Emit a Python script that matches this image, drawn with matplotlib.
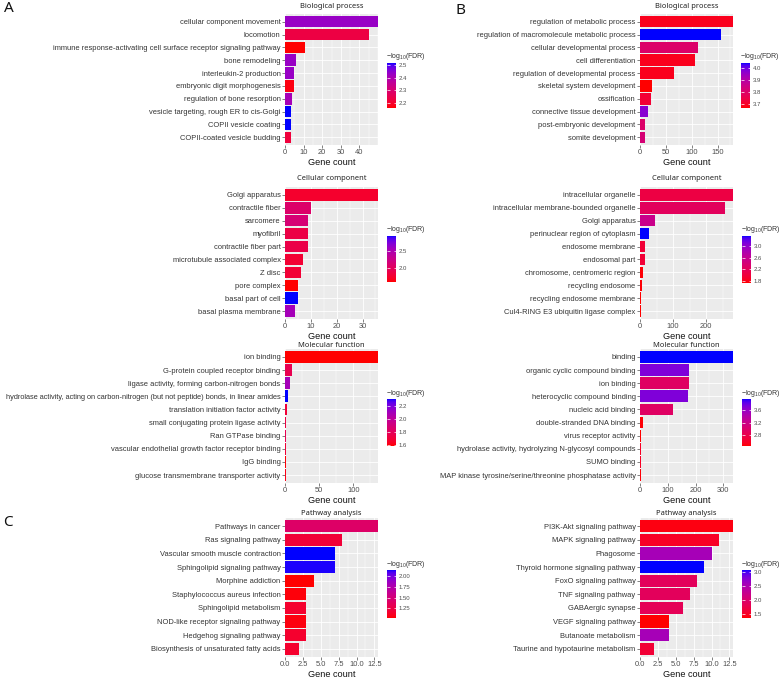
import numpy as np
import matplotlib
matplotlib.use("Agg")
import matplotlib.pyplot as plt
from matplotlib.colors import ListedColormap, Normalize
from matplotlib.ticker import MultipleLocator

plt.rcParams['font.family'] = ['Liberation Sans', 'DejaVu Sans']
plt.rcParams['mathtext.fontset'] = 'custom'
plt.rcParams['mathtext.rm'] = 'Liberation Sans'
plt.rcParams['mathtext.it'] = 'Liberation Sans'

# ---------------- data ----------------
bp_a_terms = ["cellular component movement", "locomotion",
              "immune response-activating cell surface receptor signaling pathway",
              "bone remodeling", "interleukin-2 production", "embryonic digit morphogenesis",
              "regulation of bone resorption", "vesicle targeting, rough ER to cis-Golgi",
              "COPII vesicle coating", "COPII-coated vesicle budding"]
bp_a_counts = [50, 45, 11, 6, 5, 5, 4, 3, 3, 3]
bp_a_fdr = [2.43, 2.23, 2.16, 2.43, 2.43, 2.17, 2.41, 2.516, 2.516, 2.22]
bp_a_xticks = [0, 10, 20, 30, 40]
bp_a_cticks = [2.2, 2.3, 2.4, 2.5]

bp_b_terms = ["regulation of metabolic process", "regulation of macromolecule metabolic process",
              "cellular developmental process", "cell differentiation",
              "regulation of developmental process", "skeletal system development",
              "ossification", "connective tissue development",
              "post-embryonic development", "somite development"]
bp_b_counts = [180, 156, 113, 106, 66, 24, 21, 16, 10, 10]
bp_b_fdr = [3.69, 4.04, 3.80, 3.69, 3.69, 3.667, 3.72, 3.97, 3.80, 3.82]
bp_b_xticks = [0, 50, 100, 150]
bp_b_cticks = [3.7, 3.8, 3.9, 4.0]

cc_a_terms = ["Golgi apparatus", "contractile fiber", "sarcomere", "myofibril",
              "contractile fiber part", "microtubule associated complex", "Z disc",
              "pore complex", "basal part of cell", "basal plasma membrane"]
cc_a_counts = [36, 10, 9, 9, 9, 7, 6, 5, 5, 4]
cc_a_fdr = [1.75, 2.08, 2.15, 1.88, 1.90, 1.78, 1.80, 1.60, 2.95, 2.55]
cc_a_xticks = [0, 10, 20, 30]
cc_a_cticks = [2.0, 2.5]

cc_b_terms = ["intracellular organelle", "intracellular membrane-bounded organelle",
              "Golgi apparatus", "perinuclear region of cytoplasm", "endosome membrane",
              "endosomal part", "chromosome, centromeric region", "recycling endosome",
              "recycling endosome membrane", "Cul4-RING E3 ubiquitin ligase complex"]
cc_b_counts = [281, 258, 45, 26, 16, 16, 8, 7, 4, 3]
cc_b_fdr = [2.05, 2.22, 2.55, 3.35, 1.97, 1.97, 1.75, 1.75, 1.73, 1.73]
cc_b_xticks = [0, 100, 200]
cc_b_cticks = [1.8, 2.2, 2.6, 3.0]

mf_a_terms = ["ion binding", "G-protein coupled receptor binding",
              "ligase activity, forming carbon-nitrogen bonds",
              "hydrolase activity, acting on carbon-nitrogen (but not peptide) bonds, in linear amides",
              "translation initiation factor activity", "small conjugating protein ligase activity",
              "Ran GTPase binding", "vascular endothelial growth factor receptor binding",
              "IgG binding", "glucose transmembrane transporter activity"]
mf_a_counts = [136, 10, 7, 4, 3, 2, 2, 1, 1, 1]
mf_a_fdr = [1.59, 1.77, 2.09, 2.30, 1.70, 1.73, 1.77, 1.70, 1.60, 1.62]
mf_a_xticks = [0, 50, 100]
mf_a_cticks = [1.6, 1.8, 2.0, 2.2]

mf_b_terms = ["binding", "organic cyclic compound binding", "ion binding",
              "heterocyclic compound binding", "nucleic acid binding",
              "double-stranded DNA binding", "virus receptor activity",
              "hydrolase activity, hydrolyzing N-glycosyl compounds", "SUMO binding",
              "MAP kinase tyrosine/serine/threonine phosphatase activity"]
mf_b_counts = [335, 176, 175, 174, 120, 10, 4, 4, 4, 3]
mf_b_fdr = [3.97, 3.73, 2.95, 3.73, 2.95, 2.47, 2.45, 2.58, 2.58, 2.47]
mf_b_xticks = [0, 100, 200, 300]
mf_b_cticks = [2.8, 3.2, 3.6]

pa_c_terms = ["Pathways in cancer", "Ras signaling pathway", "Vascular smooth muscle contraction",
              "Sphingolipid signaling pathway", "Morphine addiction",
              "Staphylococcus aureus infection", "Sphingolipid metabolism",
              "NOD-like receptor signaling pathway", "Hedgehog signaling pathway",
              "Biosynthesis of unsaturated fatty acids"]
pa_c_counts = [13, 8, 7, 7, 4, 3, 3, 3, 3, 2]
pa_c_fdr = [1.42, 1.20, 2.14, 2.13, 1.03, 1.05, 1.16, 1.06, 1.16, 1.16]
pa_c_xticks = [0.0, 2.5, 5.0, 7.5, 10.0, 12.5]
pa_c_cticks = [1.25, 1.50, 1.75, 2.00]

pa_d_terms = ["PI3K-Akt signaling pathway", "MAPK signaling pathway", "Phagosome",
              "Thyroid hormone signaling pathway", "FoxO signaling pathway",
              "TNF signaling pathway", "GABAergic synapse", "VEGF signaling pathway",
              "Butanoate metabolism", "Taurine and hypotaurine metabolism"]
pa_d_counts = [13, 11, 10, 9, 8, 7, 6, 4, 4, 2]
pa_d_fdr = [1.40, 1.50, 2.55, 3.06, 1.86, 1.86, 1.83, 1.35, 2.55, 1.60]
pa_d_xticks = [0.0, 2.5, 5.0, 7.5, 10.0, 12.5]
pa_d_cticks = [1.5, 2.0, 2.5, 3.0]

titles = ["Biological process", "Cellular component", "Molecular function", "Pathway analysis"]


# ---------------- colormap (Lab interpolation red -> blue, like ggplot) ----------------
def _f(t):
    d = 6 / 29
    return np.where(t > d ** 3, np.cbrt(t), t / (3 * d * d) + 4 / 29)


def _finv(t):
    d = 6 / 29
    return np.where(t > d, t ** 3, 3 * d * d * (t - 4 / 29))


M = np.array([[0.4124564, 0.3575761, 0.1804375],
              [0.2126729, 0.7151522, 0.0721750],
              [0.0193339, 0.1191920, 0.9503041]])
WHITE = np.array([0.95047, 1.0, 1.08883])


def rgb2lab(rgb):
    rgb = np.asarray(rgb, float)
    c = np.where(rgb <= 0.04045, rgb / 12.92, ((rgb + 0.055) / 1.055) ** 2.4)
    xyz = M @ c / WHITE
    fx, fy, fz = _f(xyz)
    return np.array([116 * fy - 16, 500 * (fx - fy), 200 * (fy - fz)])


def lab2rgb(lab):
    L, a, b = lab
    fy = (L + 16) / 116
    fx = fy + a / 500
    fz = fy - b / 200
    xyz = np.array([_finv(fx), _finv(fy), _finv(fz)]) * WHITE
    c = np.linalg.inv(M) @ xyz
    c = np.clip(c, 0, 1)
    rgb = np.where(c <= 0.0031308, 12.92 * c, 1.055 * c ** (1 / 2.4) - 0.055)
    return np.clip(rgb, 0, 1)


lab_lo = rgb2lab([1, 0, 0])
lab_hi = rgb2lab([0, 0, 1])
cols = [lab2rgb(lab_lo + (lab_hi - lab_lo) * t) for t in np.linspace(0, 1, 256)]
cmap = ListedColormap(cols)

# ---------------- figure ----------------
W, H = 784, 683
fig = plt.figure(figsize=(W / 100, H / 100), dpi=100)


def rect(l, t, r, b):
    return [l / W, 1 - b / H, (r - l) / W, (b - t) / H]


panels = [
    (bp_a_terms, bp_a_counts, bp_a_fdr, bp_a_xticks, bp_a_cticks, titles[0],
     (285, 14, 378, 145), (387, 63, 396, 108), 4.0),
    (bp_b_terms, bp_b_counts, bp_b_fdr, bp_b_xticks, bp_b_cticks, titles[0],
     (640, 14, 733, 145), (741, 63, 750, 108), 4.0),
    (cc_a_terms, cc_a_counts, cc_a_fdr, cc_a_xticks, cc_a_cticks, titles[1],
     (285, 187, 378, 319), (387, 236, 396, 282), 4.3),
    (cc_b_terms, cc_b_counts, cc_b_fdr, cc_b_xticks, cc_b_cticks, titles[1],
     (640, 187, 733, 319), (742, 236, 751, 283), 4.3),
    (mf_a_terms, mf_a_counts, mf_a_fdr, mf_a_xticks, mf_a_cticks, titles[2],
     (285, 349, 378, 483), (387, 399, 396, 446), -0.5),
    (mf_b_terms, mf_b_counts, mf_b_fdr, mf_b_xticks, mf_b_cticks, titles[2],
     (640, 349, 733, 483), (742, 399, 751, 446), -0.5),
    (pa_c_terms, pa_c_counts, pa_c_fdr, pa_c_xticks, pa_c_cticks, titles[3],
     (285, 518, 378, 657), (387, 570, 396, 618), 1.5),
    (pa_d_terms, pa_d_counts, pa_d_fdr, pa_d_xticks, pa_d_cticks, titles[3],
     (640, 518, 733, 657), (742, 570, 751, 618), 1.5),
]

for terms, counts, fdr, xticks, cticks, title, axr, cbr, tpad in panels:
    ax = fig.add_axes(rect(*axr))
    ax.set_facecolor('#EBEBEB')
    norm = Normalize(vmin=min(fdr), vmax=max(fdr))
    y = np.arange(len(terms))
    ax.barh(y, counts, height=0.9, color=cmap(norm(np.array(fdr))), zorder=3)
    ax.set_xlim(0, max(counts))
    ax.set_ylim(len(terms) - 0.4, -0.6)
    ax.set_yticks(y)
    ax.set_yticklabels(terms, fontsize=5.4, color='#333333')
    for t in ax.get_yticklabels():
        if len(t.get_text()) > 80:
            t.set_fontsize(5.3)
    ax.set_xticks(xticks)
    step = xticks[1] - xticks[0]
    ax.xaxis.set_minor_locator(MultipleLocator(step / 2))
    if isinstance(xticks[1], float):
        ax.set_xticklabels(["%.1f" % v for v in xticks])
    ax.tick_params(axis='x', labelsize=5.4, labelcolor='#4D4D4D', color='#4D4D4D',
                   length=2, width=0.5, pad=1.2)
    ax.tick_params(axis='x', which='minor', length=0)
    ax.tick_params(axis='y', length=2, width=0.5, color='#4D4D4D', pad=1.2)
    ax.grid(True, which='major', color='white', linewidth=0.6, zorder=0)
    ax.grid(True, which='minor', axis='x', color='white', linewidth=0.3, zorder=0)
    ax.set_axisbelow(True)
    for s in ax.spines.values():
        s.set_visible(False)
    ax.set_xlabel("Gene count", fontsize=6.6, color='#111111', labelpad=0.8)
    ax.set_title(title, fontsize=5.4, color='#222222', pad=tpad + 0.6,
                 family=['Noto Sans', 'DejaVu Sans'])

    cax = fig.add_axes(rect(*cbr))
    sm = plt.cm.ScalarMappable(norm=norm, cmap=cmap)
    cb = fig.colorbar(sm, cax=cax, ticks=cticks)
    cb.outline.set_visible(False)
    if any(abs(v * 10 - round(v * 10)) > 1e-9 for v in cticks):
        cb.set_ticklabels(["%.2f" % v for v in cticks])
    else:
        cb.set_ticklabels(["%.1f" % v for v in cticks])
    cax.tick_params(labelsize=4.3, labelcolor='#4D4D4D', color='white', direction='in',
                    length=1.8, width=0.5, pad=2, left=True, right=True)
    fig.text((cbr[0] - 1) / W, 1 - (cbr[1] - 6) / H, r"$-\mathrm{log}_{10}(\mathrm{FDR})$",
             fontsize=5, color='#333333', ha='left', va='center')

for lab, (px, py) in {"A": (9, 8), "B": (460, 10), "C": (8, 522)}.items():
    fig.text(px / W, 1 - py / H, lab, fontsize=11, ha='center', va='center',
             family=['Noto Sans', 'DejaVu Sans'], color='#111111')

fig.savefig("out.png", dpi=100)
